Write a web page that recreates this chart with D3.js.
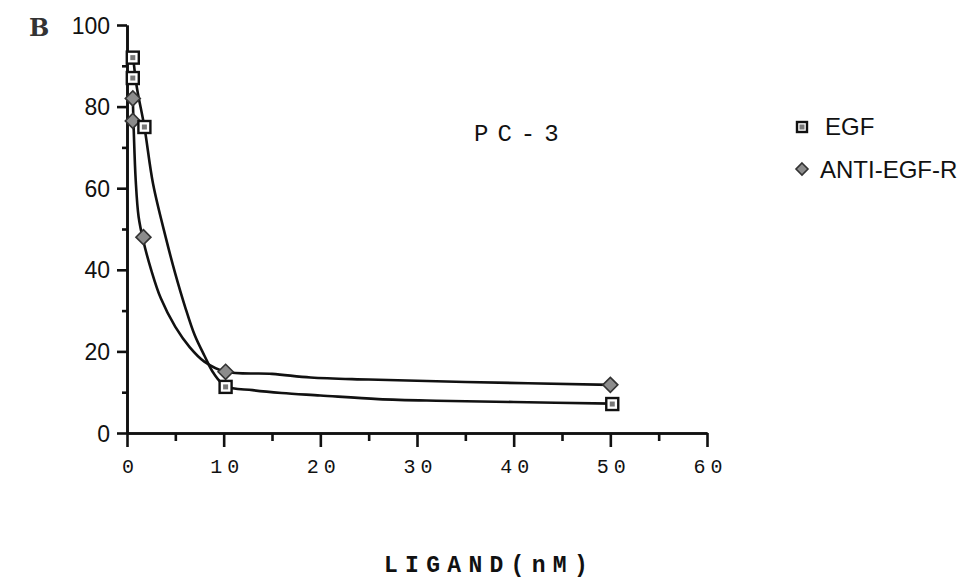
<!DOCTYPE html>
<html><head><meta charset="utf-8">
<script src="https://cdn.jsdelivr.net/npm/d3@7"></script>
<style>body{margin:0;background:#fff}svg{display:block}</style>
</head><body>
<svg id="c" width="979" height="581"></svg>
<script>
// ---- data ----
const seriesNames = ["EGF", "ANTI-EGF-R"];
const egfX = [0.6, 0.6, 1.8, 10.2, 50.2];
const egfY = [92, 87, 75, 11.3, 7.1];
const antiX = [0.6, 0.6, 1.7, 10.2, 50];
const antiY = [82, 76.5, 48, 15, 11.8];
// fitted curves as drawn in the figure
const egfCurveX = [0.6, 1.0, 1.8, 2.7, 4.0, 5.0, 6.0, 7.0, 8.0, 9.0, 10.2, 13, 16, 20, 26, 32, 40, 50.2];
const egfCurveY = [93, 85, 75, 61, 48, 39, 31, 24, 19, 14.5, 11.5, 10.5, 9.8, 9.2, 8.3, 7.9, 7.6, 7.2];
const antiCurveX = [0.6, 0.7, 0.9, 1.2, 1.7, 2.5, 3.5, 5.0, 6.5, 8.0, 10.2, 15, 19, 25, 35, 50];
const antiCurveY = [82, 74, 62, 53, 47, 40, 33, 26, 21, 17.5, 15, 14.5, 13.6, 13.1, 12.5, 11.8];
const xMajorTicks = [0, 10, 20, 30, 40, 50, 60];
const xMinorTicks = [5, 15, 25, 35, 45, 55];
const yMajorTicks = [0, 20, 40, 60, 80, 100];
const yMinorTicks = [10, 30, 50, 70, 90];

const svg = d3.select("#c");
const x = d3.scaleLinear().domain([0, 60]).range([127, 707]);
const y = d3.scaleLinear().domain([0, 100]).range([433, 25]);

// panel letter
svg.append("text").attr("x", 29).attr("y", 36)
  .attr("font-family", "DejaVu Serif").attr("font-weight", "bold").attr("font-size", 24)
  .attr("fill", "#333").text("B");

// axes
const yMinor = svg.append("g").attr("transform", `translate(${x(0)},0)`)
  .call(d3.axisLeft(y).tickValues(yMinorTicks).tickSize(5).tickSizeOuter(0).tickFormat(""));
const yMajor = svg.append("g").attr("transform", `translate(${x(0)},0)`)
  .call(d3.axisLeft(y).tickValues(yMajorTicks).tickSize(10).tickSizeOuter(0).tickPadding(7));
const xMinor = svg.append("g").attr("transform", `translate(0,${y(0)})`)
  .call(d3.axisBottom(x).tickValues(xMinorTicks).tickSize(8).tickSizeOuter(0).tickFormat(""));
const xMajor = svg.append("g").attr("transform", `translate(0,${y(0)})`)
  .call(d3.axisBottom(x).tickValues(xMajorTicks).tickSize(14).tickSizeOuter(0).tickPadding(12));

svg.selectAll(".domain").attr("stroke", "#111").attr("stroke-width", 2.6);
svg.selectAll(".tick line").attr("stroke", "#111").attr("stroke-width", 2.6);
yMajor.selectAll("text").attr("font-family", "Liberation Sans").attr("font-size", 23).attr("fill", "#111").attr("dy", "0.35em");
xMajor.selectAll("text").attr("font-family", "Liberation Mono").attr("font-size", 20).attr("fill", "#111")
  .attr("letter-spacing", "5px").attr("dx", "3px");

// curves
const line = d3.line().x(d => x(d[0])).y(d => y(d[1])).curve(d3.curveCatmullRom.alpha(0.5));
const egfCurve = egfCurveX.map((v, i) => [v, egfCurveY[i]]);
const antiCurve = antiCurveX.map((v, i) => [v, antiCurveY[i]]);
svg.append("path").attr("d", line(egfCurve)).attr("fill", "none").attr("stroke", "#111").attr("stroke-width", 2.6);
svg.append("path").attr("d", line(antiCurve)).attr("fill", "none").attr("stroke", "#111").attr("stroke-width", 2.6);

// markers
function diamond(g, cx, cy, r) {
  g.append("path").attr("d", `M${cx},${cy - r}L${cx + r},${cy}L${cx},${cy + r}L${cx - r},${cy}Z`)
    .attr("fill", "#8c8c8c").attr("stroke", "#333").attr("stroke-width", 1.6);
}
function square(g, cx, cy, s) {
  g.append("rect").attr("x", cx - s / 2).attr("y", cy - s / 2).attr("width", s).attr("height", s)
    .attr("fill", "#fff").attr("stroke", "#111").attr("stroke-width", 2.4);
  g.append("rect").attr("x", cx - 2.5).attr("y", cy - 2.5).attr("width", 5).attr("height", 5)
    .attr("fill", "#777");
}
const mk = svg.append("g");
antiX.forEach((v, i) => diamond(mk, x(v), y(antiY[i]), 7.5));
egfX.forEach((v, i) => square(mk, x(v), y(egfY[i]), 12));

// title inside plot
svg.append("text").attr("x", 474).attr("y", 141)
  .attr("font-family", "Liberation Mono").attr("font-size", 24).attr("letter-spacing", "9px")
  .attr("fill", "#111").text("PC-3");

// x axis title
svg.append("text").attr("x", 384).attr("y", 572)
  .attr("font-family", "Liberation Mono").attr("font-weight", "bold").attr("font-size", 23)
  .attr("letter-spacing", "7.3px").attr("fill", "#111").text("LIGAND(nM)");

// legend
const lg = svg.append("g");
square(lg, 802, 127, 10);
lg.append("text").attr("x", 825).attr("y", 135).attr("font-family", "Liberation Sans").attr("font-size", 24)
  .attr("fill", "#111").text(seriesNames[0]);
diamond(lg, 802, 169, 6);
lg.append("text").attr("x", 820).attr("y", 178).attr("font-family", "Liberation Sans").attr("font-size", 24)
  .attr("fill", "#111").text(seriesNames[1]);
</script>
</body></html>
